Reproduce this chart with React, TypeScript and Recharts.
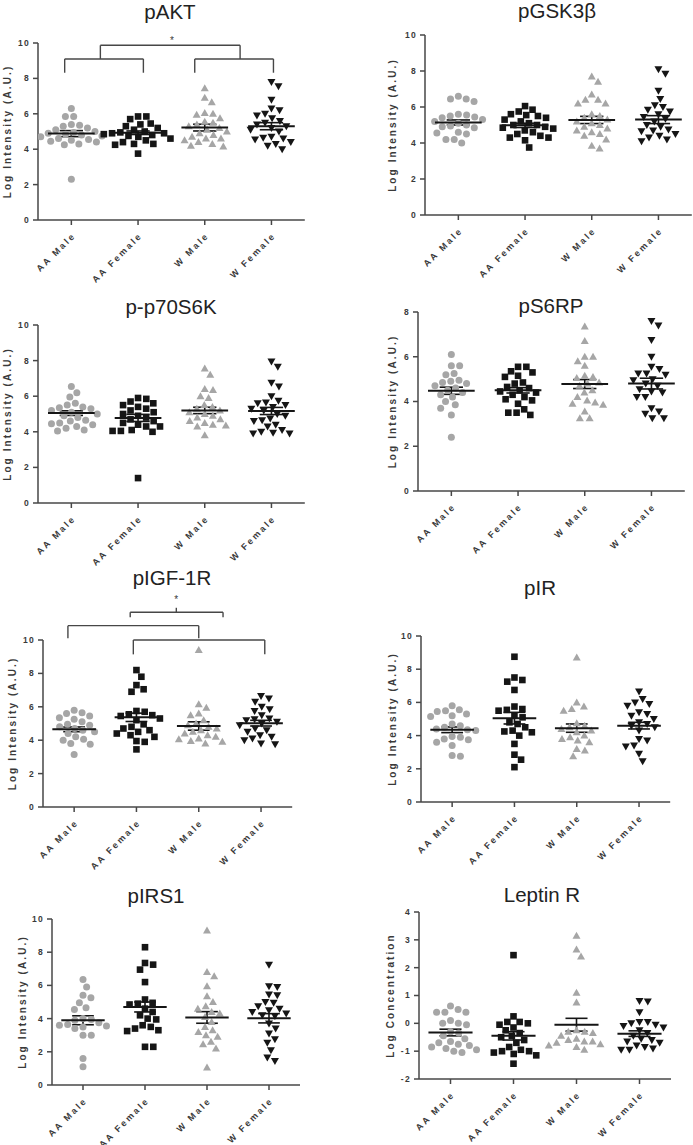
import React from "react"
import {
  ErrorBar,
  ReferenceDot,
  ReferenceLine,
  Scatter,
  ScatterChart,
  XAxis,
  YAxis,
} from "recharts"

const GROUPS = ["AA Male", "AA Female", "W Male", "W Female"]

// pAKT
const pAKT_aaMale = [6.3, 5.85, 5.85, 5.4, 5.35, 5.3, 5.2, 5.1, 5.0, 4.95, 4.9, 4.85, 4.8, 4.75, 4.7, 4.6, 4.55, 4.5, 4.45, 4.4, 4.3, 4.25, 2.3]
const pAKT_aaFemale = [5.85, 5.85, 5.7, 5.45, 5.4, 5.3, 5.2, 5.1, 5.0, 4.95, 4.9, 4.9, 4.85, 4.8, 4.75, 4.7, 4.6, 4.5, 4.4, 4.3, 4.3, 4.25, 3.75]
const pAKT_wMale = [7.45, 6.9, 6.65, 6.05, 6.0, 5.95, 5.75, 5.55, 5.5, 5.4, 5.3, 5.2, 5.1, 5.0, 4.9, 4.8, 4.7, 4.6, 4.6, 4.5, 4.4, 4.3, 4.2, 4.15]
const pAKT_wFemale = [7.8, 7.55, 6.8, 6.3, 6.2, 6.0, 5.9, 5.75, 5.6, 5.5, 5.4, 5.3, 5.2, 5.1, 5.0, 4.7, 4.65, 4.6, 4.55, 4.4, 4.3, 4.2, 4.0]
const pAKT_means = [4.88, 4.93, 5.22, 5.3]
const pAKT_sems = [0.17, 0.1, 0.19, 0.2]

// pGSK3β
const pGSK_aaMale = [6.6, 6.45, 6.45, 6.3, 5.6, 5.55, 5.5, 5.45, 5.4, 5.3, 5.2, 5.1, 5.0, 4.95, 4.9, 4.85, 4.6, 4.55, 4.5, 4.2, 4.2, 4.0]
const pGSK_aaFemale = [6.05, 5.85, 5.75, 5.6, 5.55, 5.5, 5.4, 5.3, 5.2, 5.1, 5.0, 5.0, 4.9, 4.85, 4.8, 4.7, 4.6, 4.5, 4.4, 4.3, 4.3, 4.15, 3.75]
const pGSK_wMale = [7.7, 7.4, 6.7, 6.4, 6.4, 6.2, 6.2, 5.6, 5.5, 5.4, 5.3, 5.2, 5.1, 5.0, 4.9, 4.8, 4.7, 4.6, 4.5, 4.4, 4.2, 3.85, 3.7]
const pGSK_wFemale = [8.1, 7.85, 6.9, 6.45, 6.1, 6.0, 5.85, 5.75, 5.6, 5.45, 5.35, 5.2, 5.0, 4.9, 4.75, 4.7, 4.65, 4.5, 4.4, 4.3, 4.2, 4.1]
const pGSK_means = [5.14, 4.98, 5.28, 5.3]
const pGSK_sems = [0.14, 0.12, 0.2, 0.22]

// p-p70S6K
const p70_aaMale = [6.55, 6.2, 5.95, 5.6, 5.5, 5.4, 5.35, 5.3, 5.2, 5.1, 5.0, 4.9, 4.8, 4.65, 4.6, 4.5, 4.45, 4.4, 4.3, 4.2, 4.1, 4.05]
const p70_aaFemale = [5.9, 5.85, 5.7, 5.6, 5.5, 5.4, 5.3, 5.2, 5.1, 5.0, 4.9, 4.8, 4.7, 4.6, 4.5, 4.4, 4.3, 4.3, 4.1, 4.05, 4.05, 4.0, 1.4]
const p70_wMale = [7.55, 7.2, 6.4, 6.35, 6.0, 5.9, 5.5, 5.4, 5.3, 5.2, 5.1, 5.0, 4.9, 4.8, 4.7, 4.6, 4.5, 4.4, 4.35, 4.3, 3.8]
const p70_wFemale = [7.95, 7.65, 6.75, 6.55, 6.0, 5.75, 5.65, 5.6, 5.5, 5.4, 5.3, 5.2, 5.0, 4.9, 4.75, 4.65, 4.6, 4.4, 4.3, 4.1, 4.0, 3.95, 3.9, 3.9]
const p70_means = [5.05, 4.78, 5.2, 5.17]
const p70_sems = [0.13, 0.2, 0.18, 0.2]

// pS6RP
const s6_aaMale = [6.1, 5.6, 5.6, 5.25, 5.2, 4.95, 4.9, 4.85, 4.8, 4.7, 4.6, 4.5, 4.4, 4.3, 4.2, 4.0, 3.85, 3.7, 3.4, 2.4]
const s6_aaFemale = [5.55, 5.55, 5.35, 5.3, 5.15, 5.1, 4.85, 4.8, 4.65, 4.6, 4.5, 4.45, 4.4, 4.3, 4.2, 4.1, 4.05, 3.9, 3.65, 3.5, 3.5, 3.4]
const s6_wMale = [7.35, 6.7, 6.0, 6.0, 5.8, 5.6, 5.15, 5.1, 5.05, 4.85, 4.8, 4.7, 4.5, 4.4, 4.2, 4.05, 3.95, 3.9, 3.85, 3.55, 3.25, 3.25]
const s6_wFemale = [7.6, 7.4, 6.75, 6.0, 5.55, 5.45, 5.25, 5.25, 5.2, 5.0, 4.95, 4.8, 4.7, 4.55, 4.45, 4.4, 4.2, 4.2, 3.7, 3.55, 3.45, 3.25, 3.25]
const s6_means = [4.48, 4.5, 4.78, 4.8]
const s6_sems = [0.16, 0.12, 0.2, 0.24]

// pIGF-1R
const igf_aaMale = [5.8, 5.65, 5.6, 5.45, 5.35, 5.25, 5.1, 4.95, 4.9, 4.8, 4.7, 4.6, 4.5, 4.4, 4.2, 4.05, 4.0, 3.8, 3.75, 3.15]
const igf_aaFemale = [8.2, 7.8, 7.3, 7.05, 6.9, 5.75, 5.7, 5.55, 5.5, 5.45, 5.3, 5.2, 4.95, 4.8, 4.7, 4.6, 4.5, 4.4, 4.3, 4.2, 3.95, 3.9, 3.45]
const igf_wMale = [9.4, 6.15, 5.95, 5.6, 5.5, 5.2, 5.0, 4.9, 4.8, 4.7, 4.6, 4.5, 4.4, 4.3, 4.2, 4.1, 4.05, 3.95, 3.9, 3.8]
const igf_wFemale = [6.65, 6.5, 6.3, 6.0, 5.85, 5.75, 5.5, 5.3, 5.25, 5.2, 5.1, 5.0, 4.9, 4.7, 4.6, 4.5, 4.3, 4.2, 4.1, 4.0, 3.8, 3.75]
const igf_means = [4.65, 5.37, 4.85, 5.02]
const igf_sems = [0.14, 0.25, 0.25, 0.17]

// pIR
const ir_aaMale = [5.8, 5.55, 5.5, 5.45, 5.3, 5.2, 5.15, 4.7, 4.6, 4.5, 4.4, 4.35, 4.3, 3.95, 3.9, 3.8, 3.75, 3.6, 3.4, 2.8, 2.75]
const ir_aaFemale = [8.75, 7.5, 7.35, 7.25, 6.75, 5.75, 5.6, 5.55, 5.5, 5.2, 5.1, 4.8, 4.7, 4.5, 4.3, 4.25, 4.2, 4.0, 3.5, 2.85, 2.55, 2.1]
const ir_wMale = [8.7, 6.0, 5.75, 5.6, 5.5, 4.75, 4.6, 4.5, 4.4, 4.3, 4.2, 4.0, 3.9, 3.8, 3.7, 3.6, 3.2, 3.1, 2.75]
const ir_wFemale = [6.65, 6.2, 6.0, 5.9, 5.8, 5.4, 5.3, 5.2, 5.0, 4.8, 4.7, 4.6, 4.5, 4.3, 3.8, 3.7, 3.4, 3.35, 2.9, 2.45]
const ir_means = [4.35, 5.05, 4.45, 4.6]
const ir_sems = [0.17, 0.35, 0.25, 0.2]

// pIRS1
const irs_aaMale = [6.35, 5.9, 5.4, 5.25, 4.95, 4.65, 4.55, 4.0, 3.95, 3.9, 3.75, 3.65, 3.6, 3.55, 3.5, 3.4, 3.0, 3.0, 1.6, 1.1]
const irs_aaFemale = [8.3, 7.35, 7.25, 6.95, 6.2, 5.15, 4.95, 4.9, 4.85, 4.6, 4.4, 4.2, 4.0, 3.95, 3.6, 3.5, 3.4, 3.3, 3.25, 2.3, 2.3]
const irs_wMale = [9.3, 6.8, 6.55, 5.95, 5.35, 5.0, 4.75, 4.6, 4.4, 4.3, 4.1, 3.8, 3.5, 3.3, 3.2, 3.0, 2.9, 2.6, 2.45, 2.2, 1.05]
const irs_wFemale = [7.25, 5.95, 5.9, 5.45, 5.4, 5.0, 4.95, 4.75, 4.6, 4.5, 4.4, 4.3, 4.2, 4.15, 3.7, 3.4, 3.1, 2.75, 2.55, 2.1, 1.65, 1.45]
const irs_means = [3.9, 4.7, 4.07, 4.02]
const irs_sems = [0.27, 0.3, 0.35, 0.28]

// Leptin R
const lep_aaMale = [0.62, 0.5, 0.4, 0.4, 0.4, 0.1, 0.0, 0.0, -0.05, -0.3, -0.35, -0.45, -0.55, -0.65, -0.7, -0.75, -0.8, -0.85, -0.9, -0.95, -1.0, -1.05]
const lep_aaFemale = [2.45, 0.25, 0.05, 0.05, 0.0, -0.05, -0.15, -0.25, -0.35, -0.45, -0.5, -0.6, -0.7, -0.85, -0.95, -1.0, -1.0, -1.05, -1.1, -1.15, -1.45]
const lep_wMale = [3.15, 2.65, 2.4, 1.1, 0.75, -0.25, -0.3, -0.3, -0.35, -0.45, -0.55, -0.6, -0.65, -0.65, -0.7, -0.75, -0.8, -0.85, -0.95]
const lep_wFemale = [0.8, 0.78, 0.4, 0.05, 0.05, 0.0, -0.05, -0.1, -0.15, -0.25, -0.35, -0.45, -0.55, -0.6, -0.65, -0.7, -0.8, -0.85, -0.9, -0.95, -0.95]
const lep_means = [-0.33, -0.45, -0.05, -0.37]
const lep_sems = [0.12, 0.15, 0.23, 0.1]

// significance brackets (category units on x, axis units on y)
type Bracket = { x1: number; x2: number; y: number; yEnd: number; mid?: number; midTop?: number }
const pAKT_brackets: Bracket[] = [
  { x1: 0.9, x2: 2.08, y: 9.1, yEnd: 8.32 },
  { x1: 2.85, x2: 4.03, y: 9.1, yEnd: 8.32 },
  { x1: 1.435, x2: 3.53, y: 9.87, yEnd: 9.1 },
]
const pAKT_stars = [{ x: 2.51, y: 9.95 }]
const igf_brackets: Bracket[] = [
  { x1: 1.9, x2: 3.39, y: 11.66, yEnd: 11.36, mid: 2.64, midTop: 11.93 },
  { x1: 0.9, x2: 3.0, y: 10.86, yEnd: 10.1 },
  { x1: 1.95, x2: 4.06, y: 10.0, yEnd: 9.14 },
]
const igf_stars = [{ x: 2.64, y: 12.2 }]

const FONT = '"Liberation Sans", Arial, Helvetica, sans-serif'
const GRAY = "#a6a6a6"
const BLACK = "#151515"
const AXIS = "#474747"
const TEXT = "#3a3a3a"
const KINDS = ["circle", "square", "triangle", "triangleDown"]
const COLORS = [GRAY, BLACK, GRAY, BLACK]

type Panel = {
  title: string
  yLabel: string
  values: number[][]
  means: number[]
  sems: number[]
  yDomain: [number, number]
  yTicks: number[]
  axisX: number
  yTop: number
  yBot: number
  step: number
  titleX: number
  titleY: number
  yLabelX: number
  brackets?: Bracket[]
  stars?: { x: number; y: number }[]
}

const T10 = [0, 2, 4, 6, 8, 10]
const LI = "Log Intensity (A.U.)"

const panels: Panel[] = [
  { title: "pAKT", yLabel: LI, values: [pAKT_aaMale, pAKT_aaFemale, pAKT_wMale, pAKT_wFemale], means: pAKT_means, sems: pAKT_sems, yDomain: [0, 10], yTicks: T10, axisX: 38, yTop: 43, yBot: 220, step: 66.7, titleX: 170, titleY: 19, yLabelX: 7, brackets: pAKT_brackets, stars: pAKT_stars },
  { title: "pGSK3β", yLabel: LI, values: [pGSK_aaMale, pGSK_aaFemale, pGSK_wMale, pGSK_wFemale], means: pGSK_means, sems: pGSK_sems, yDomain: [0, 10], yTicks: T10, axisX: 425, yTop: 35, yBot: 215, step: 66.7, titleX: 557, titleY: 18, yLabelX: 392 },
  { title: "p-p70S6K", yLabel: LI, values: [p70_aaMale, p70_aaFemale, p70_wMale, p70_wFemale], means: p70_means, sems: p70_sems, yDomain: [0, 10], yTicks: T10, axisX: 38, yTop: 325, yBot: 503, step: 66.7, titleX: 171, titleY: 314, yLabelX: 7 },
  { title: "pS6RP", yLabel: LI, values: [s6_aaMale, s6_aaFemale, s6_wMale, s6_wFemale], means: s6_means, sems: s6_sems, yDomain: [0, 8], yTicks: [0, 2, 4, 6, 8], axisX: 418, yTop: 312, yBot: 491, step: 66.7, titleX: 551, titleY: 313, yLabelX: 392 },
  { title: "pIGF-1R", yLabel: LI, values: [igf_aaMale, igf_aaFemale, igf_wMale, igf_wFemale], means: igf_means, sems: igf_sems, yDomain: [0, 10], yTicks: T10, axisX: 43, yTop: 640, yBot: 807, step: 62.3, titleX: 172, titleY: 585, yLabelX: 12, brackets: igf_brackets, stars: igf_stars },
  { title: "pIR", yLabel: LI, values: [ir_aaMale, ir_aaFemale, ir_wMale, ir_wFemale], means: ir_means, sems: ir_sems, yDomain: [0, 10], yTicks: T10, axisX: 421, yTop: 636, yBot: 802, step: 62.3, titleX: 540, titleY: 595, yLabelX: 392 },
  { title: "pIRS1", yLabel: LI, values: [irs_aaMale, irs_aaFemale, irs_wMale, irs_wFemale], means: irs_means, sems: irs_sems, yDomain: [0, 10], yTicks: T10, axisX: 52, yTop: 919, yBot: 1085, step: 62, titleX: 156, titleY: 903, yLabelX: 22 },
  { title: "Leptin R", yLabel: "Log Concentration", values: [lep_aaMale, lep_aaFemale, lep_wMale, lep_wFemale], means: lep_means, sems: lep_sems, yDomain: [-2, 4], yTicks: [-2, -1, 0, 1, 2, 3, 4], axisX: 419, yTop: 912, yBot: 1079, step: 63, titleX: 542, titleY: 902, yLabelX: 390 },
]

// simple beeswarm: place points (highest first) at the smallest offset that doesn't overlap
function swarm(values: number[], pxPerY: number, pxPerCat: number, d: number) {
  const placed: { x: number; y: number }[] = []
  const out: number[] = new Array(values.length).fill(0)
  const order = values.map((_, i) => i).sort((a, b) => values[b] - values[a])
  for (const i of order) {
    const y = values[i] * pxPerY
    const cands = [0]
    for (const p of placed) {
      const dy = Math.abs(p.y - y)
      if (dy < d) {
        const dx = Math.sqrt(d * d - dy * dy)
        cands.push(p.x + dx, p.x - dx)
      }
    }
    cands.sort((a, b) => Math.abs(a) - Math.abs(b))
    let x = 0
    for (const c of cands) {
      if (placed.every((p) => (p.x - c) ** 2 + (p.y - y) ** 2 >= d * d - 0.01)) {
        x = c
        break
      }
    }
    placed.push({ x, y })
    out[i] = x / pxPerCat
  }
  return out
}

function Marker({ cx, cy, kind, color }: { cx?: number; cy?: number; kind: string; color: string }) {
  if (cx == null || cy == null) return null
  if (kind === "circle") return <circle cx={cx} cy={cy} r={3.5} fill={color} />
  if (kind === "square") return <rect x={cx - 3.3} y={cy - 3.3} width={6.6} height={6.6} fill={color} />
  if (kind === "triangle")
    return <path d={`M${cx},${cy - 4}L${cx + 4},${cy + 3}L${cx - 4},${cy + 3}Z`} fill={color} />
  return <path d={`M${cx},${cy + 4}L${cx + 4},${cy - 3}L${cx - 4},${cy - 3}Z`} fill={color} />
}

function XTick(props: any) {
  const { x, y, payload } = props
  const ax = x + 5
  const ay = y + 9
  return (
    <text
      x={ax}
      y={ay}
      transform={`rotate(-45, ${ax}, ${ay})`}
      textAnchor="end"
      fontFamily={FONT}
      fontWeight={700}
      fontSize={9}
      letterSpacing={2.3}
      fill={TEXT}
    >
      {GROUPS[Math.round(payload.value) - 1]}
    </text>
  )
}

function YTick(props: any) {
  const { x, y, payload } = props
  return (
    <text x={x - 1} y={y} dy="0.35em" textAnchor="end" fontFamily={FONT} fontWeight={700} fontSize={8.5} letterSpacing={1.3} fill={TEXT}>
      {payload.value}
    </text>
  )
}

function DotPanel({ p }: { p: Panel }) {
  const YW = 50
  const MT = 50
  const XH = 70
  const MB = 4
  const MR = 2
  const plotW = p.step * 4
  const plotH = p.yBot - p.yTop
  const pxPerY = plotH / (p.yDomain[1] - p.yDomain[0])
  const series = p.values.map((vals, g) => {
    const offs = swarm(vals, pxPerY, p.step, 8.3)
    return vals.map((v, i) => ({ x: g + 1 + offs[i], y: v }))
  })
  const meanData = p.means.map((m, g) => ({ x: g + 1, y: m, sem: p.sems[g] }))
  const meanHalf = p.step * 0.35
  const capHalf = p.step * 0.175
  const axisStyle = { stroke: AXIS, strokeWidth: 1.5 }
  const segs: { a: { x: number; y: number }; b: { x: number; y: number } }[] = []
  for (const b of p.brackets ?? []) {
    segs.push({ a: { x: b.x1, y: b.y }, b: { x: b.x2, y: b.y } })
    segs.push({ a: { x: b.x1, y: b.y }, b: { x: b.x1, y: b.yEnd } })
    segs.push({ a: { x: b.x2, y: b.y }, b: { x: b.x2, y: b.yEnd } })
    if (b.mid != null && b.midTop != null) segs.push({ a: { x: b.mid, y: b.y }, b: { x: b.mid, y: b.midTop } })
  }
  return (
    <div style={{ position: "absolute", left: p.axisX - YW, top: p.yTop - MT }}>
      <ScatterChart
        width={YW + plotW + MR}
        height={MT + plotH + XH + MB}
        margin={{ top: MT, right: MR, bottom: MB, left: 0 }}
      >
        <XAxis
          type="number"
          dataKey="x"
          domain={[0.5, 4.5]}
          ticks={[1, 2, 3, 4]}
          interval={0}
          allowDataOverflow
          height={XH}
          tickSize={5}
          axisLine={axisStyle}
          tickLine={axisStyle}
          tick={<XTick />}
        />
        <YAxis
          type="number"
          dataKey="y"
          domain={p.yDomain}
          ticks={p.yTicks}
          interval={0}
          allowDataOverflow
          width={YW}
          tickSize={5}
          axisLine={axisStyle}
          tickLine={axisStyle}
          tick={<YTick />}
        />
        {segs.map((s, i) => (
          <ReferenceLine key={`s${i}`} segment={[s.a, s.b]} ifOverflow="visible" stroke={AXIS} strokeWidth={1.4} />
        ))}
        {(p.stars ?? []).map((s, i) => (
          <ReferenceDot
            key={`st${i}`}
            x={s.x}
            y={s.y}
            r={1}
            ifOverflow="visible"
            shape={(sp: any) => (
              <text x={sp.cx} y={sp.cy} textAnchor="middle" fontFamily={FONT} fontSize={10} fill={TEXT}>
                *
              </text>
            )}
          />
        ))}
        {series.map((data, g) => (
          <Scatter
            key={g}
            data={data}
            isAnimationActive={false}
            shape={(sp: any) => <Marker cx={sp.cx} cy={sp.cy} kind={KINDS[g]} color={COLORS[g]} />}
          />
        ))}
        <Scatter
          data={meanData}
          isAnimationActive={false}
          shape={(sp: any) => (
            <line x1={sp.cx - meanHalf} x2={sp.cx + meanHalf} y1={sp.cy} y2={sp.cy} stroke={BLACK} strokeWidth={2} />
          )}
        >
          <ErrorBar dataKey="sem" direction="y" width={capHalf} stroke={BLACK} strokeWidth={1.6} isAnimationActive={false} />
        </Scatter>
      </ScatterChart>
    </div>
  )
}

export default function App() {
  return (
    <div style={{ position: "absolute", left: 0, top: 0, width: 693, height: 1145, overflow: "hidden", background: "#fff" }}>
      {panels.map((p) => (
        <DotPanel key={p.title} p={p} />
      ))}
      <svg width={693} height={1145} style={{ position: "absolute", left: 0, top: 0, pointerEvents: "none" }}>
        {panels.map((p) => (
          <g key={p.title}>
            <text x={p.titleX} y={p.titleY} textAnchor="middle" fontFamily={FONT} fontSize={20.5} fill="#222">
              {p.title}
            </text>
            <text
              x={p.yLabelX}
              y={(p.yTop + p.yBot) / 2}
              transform={`rotate(-90, ${p.yLabelX}, ${(p.yTop + p.yBot) / 2})`}
              textAnchor="middle"
              dominantBaseline="central"
              fontFamily={FONT}
              fontWeight={700}
              fontSize={10}
              letterSpacing={2.1}
              fill={TEXT}
            >
              {p.yLabel}
            </text>
          </g>
        ))}
      </svg>
    </div>
  )
}
